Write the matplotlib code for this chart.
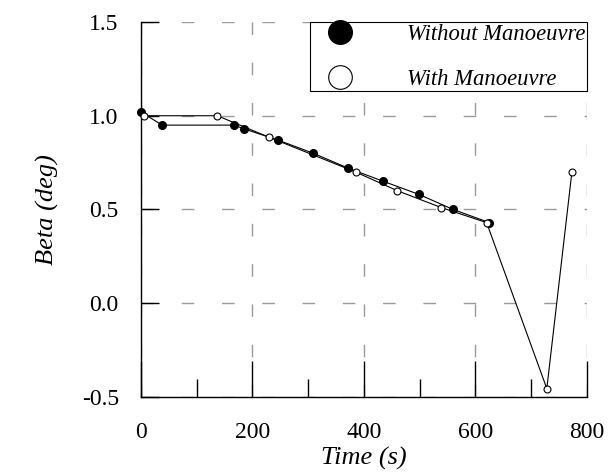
import matplotlib
matplotlib.use("Agg")
import matplotlib.pyplot as plt
from matplotlib.lines import Line2D

# Beta angle over time
t_without = [0, 38, 167, 185, 246, 309, 372, 435, 499, 560, 625]
beta_without = [1.02, 0.95, 0.95, 0.93, 0.87, 0.80, 0.72, 0.65, 0.58, 0.50, 0.43]

t_with = [5, 137, 230, 385, 460, 539, 620, 728, 773]
beta_with = [1.00, 1.00, 0.885, 0.70, 0.60, 0.51, 0.43, -0.455, 0.70]

x_ticks = [0, 200, 400, 600, 800]
y_ticks = [-0.5, 0.0, 0.5, 1.0, 1.5]

plt.rcParams["font.family"] = ["Liberation Serif", "DejaVu Serif"]

fig = plt.figure(figsize=(6.09, 4.75), dpi=100)
ax = fig.add_axes([0.2315, 0.1642, 0.7323, 0.7895])

ax.plot(t_without, beta_without, color="black", lw=0.8, marker="o",
        ms=5.5, mfc="black", mec="black", clip_on=False, zorder=3)
ax.plot(t_with, beta_with, color="black", lw=0.8, marker="o",
        ms=5, mfc="white", mec="black", mew=0.8, clip_on=False, zorder=4)

ax.set_xlim(0, 800)
ax.set_ylim(-0.5, 1.5)
ax.set_xticks(x_ticks)
ax.set_xticks(range(100, 800, 200), minor=True)
ax.set_yticks(y_ticks)
ax.set_yticklabels([f"{v:.1f}" for v in y_ticks])

ax.grid(True, which="major", color="#9a9a9a", linestyle=(0, (9, 20)), lw=1.0)
ax.set_axisbelow(True)

for side in ["top", "right"]:
    ax.spines[side].set_visible(False)
for side in ["left", "bottom"]:
    ax.spines[side].set_linewidth(1.0)

ax.tick_params(axis="x", which="major", direction="in", length=26, width=1,
               pad=18, labelsize=17)
ax.tick_params(axis="x", which="minor", direction="in", length=13, width=1)
ax.tick_params(axis="y", which="major", direction="in", length=13, width=1,
               pad=16, labelsize=17)

ax.set_xlabel("Time (s)", fontsize=19, style="italic", labelpad=3)
ax.set_ylabel("Beta (deg)", fontsize=19, style="italic", labelpad=16)

handles = [
    Line2D([], [], ls="none", marker="o", ms=17, mfc="black", mec="black"),
    Line2D([], [], ls="none", marker="o", ms=17, mfc="white", mec="black",
           mew=0.8),
]
leg = ax.legend(handles, ["Without Manoeuvre", "With Manoeuvre"],
                loc="upper right", bbox_to_anchor=(1.0, 1.0),
                borderaxespad=0, borderpad=0.08, handlelength=2.5,
                handletextpad=1.7, labelspacing=1.05, fancybox=False,
                edgecolor="black", framealpha=1,
                prop={"size": 16.3, "style": "italic"})
leg.get_frame().set_linewidth(0.8)

fig.savefig("out.png", dpi=100)
